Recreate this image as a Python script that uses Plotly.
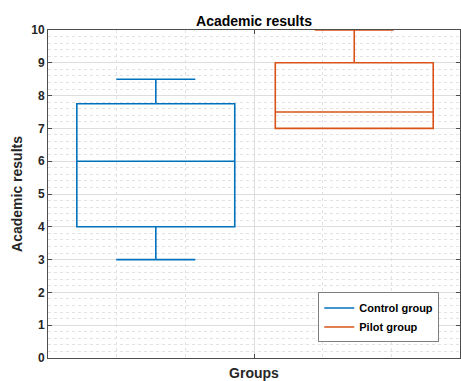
import plotly.graph_objects as go

# ---- data ----
groups = ["Control group", "Pilot group"]
positions = [1.57, 4.46]
lower_whisker = [3.0, 7.0]
q1_vals = [4.0, 7.0]
medians = [6.0, 7.5]
q3_vals = [7.75, 9.0]
upper_whisker = [8.5, 10.0]
colors = ["#0072BD", "#D95319"]

y_ticks = list(range(0, 11))

FONT = "Liberation Sans, Arial, sans-serif"

fig = go.Figure()
for i, g in enumerate(groups):
    fig.add_trace(go.Box(
        x=[positions[i]],
        q1=[q1_vals[i]], median=[medians[i]], q3=[q3_vals[i]],
        lowerfence=[lower_whisker[i]], upperfence=[upper_whisker[i]],
        width=2.3, whiskerwidth=0.5,
        line=dict(color=colors[i], width=1.6),
        fillcolor="rgba(0,0,0,0)",
        boxpoints=False, showlegend=False, name=g,
        hoverinfo="skip",
    ))
for i, g in enumerate(groups):
    fig.add_trace(go.Scatter(
        x=[None], y=[None], mode="lines", name=f"<b>{g}</b>",
        line=dict(color=colors[i], width=1.6), showlegend=True,
    ))

axis_common = dict(
    showline=True, linecolor="#4d4d4d", linewidth=1, mirror="ticks",
    ticks="inside", ticklen=4, tickcolor="#4d4d4d",
    showgrid=True, gridcolor="#dedede", gridwidth=1,
    zeroline=False,
)

fig.update_layout(
    width=461, height=381,
    margin=dict(l=48, r=1, t=30, b=23),
    paper_bgcolor="white", plot_bgcolor="white",
    font=dict(family=FONT, color="#262626"),
    title=dict(text="<b>Academic results</b>", x=0.5, xref="paper",
               y=1 - 21 / 381, yref="container", yanchor="middle", xanchor="center",
               font=dict(size=14, family=FONT, color="#000000")),
    xaxis=dict(
        range=[0, 6], tickvals=[3], ticktext=[""],
        minor=dict(dtick=1, tick0=0, showgrid=True, gridcolor="#e2e2e2",
                   griddash="dot", gridwidth=1, ticks=""),
        title=dict(text="<b>Groups</b>", font=dict(size=14, family=FONT, color="#262626"),
                   standoff=13),
        **axis_common,
    ),
    yaxis=dict(
        range=[0, 10], tickvals=y_ticks, ticktext=[f"<b>{v}</b>" for v in y_ticks],
        tickfont=dict(size=12, family=FONT, color="#262626"),
        minor=dict(dtick=0.2, tick0=0, showgrid=True, gridcolor="#e2e2e2",
                   griddash="dot", gridwidth=1, ticks=""),
        title=dict(text="<b>Academic results</b>", font=dict(size=14, family=FONT, color="#262626"),
                   standoff=5),
        **axis_common,
    ),
    legend=dict(
        x=0.656, y=0.1235, xanchor="left", yanchor="middle",
        bgcolor="white", bordercolor="#7f7f7f", borderwidth=1,
        font=dict(size=11, family=FONT, color="#000000"),
        tracegroupgap=0, itemwidth=30,
    ),
    showlegend=True,
)

fig.write_html("out.html")
